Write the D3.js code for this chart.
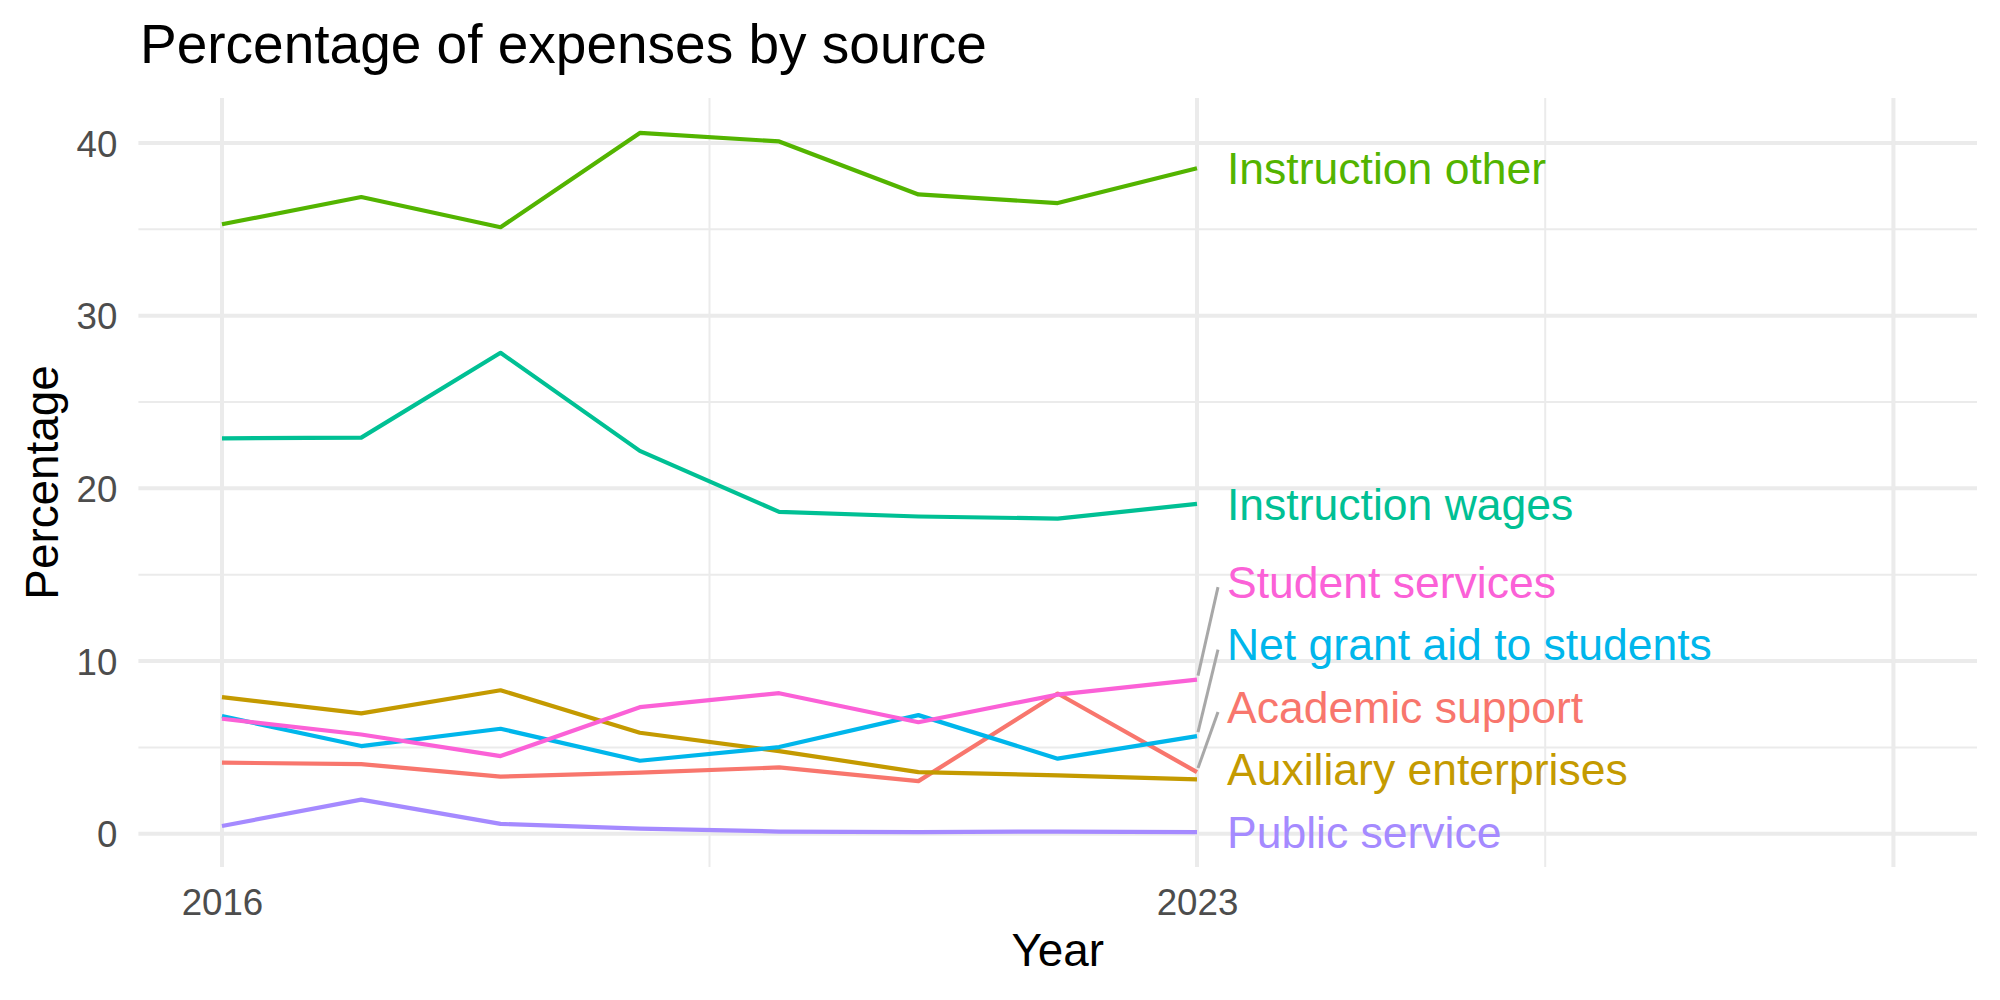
<!DOCTYPE html>
<html>
<head>
<meta charset="utf-8">
<script src="https://cdn.jsdelivr.net/npm/d3@7"></script>
<style>
  body { margin: 0; background: #fff; }
  svg { display: block; font-family: "Liberation Sans", Arial, Helvetica, sans-serif; }
</style>
</head>
<body>
<div id="chart"></div>
<script>
// data
const years = [2016, 2017, 2018, 2019, 2020, 2021, 2022, 2023];
const academicSupport      = [4.12, 4.03, 3.31, 3.54, 3.84, 3.05, 8.12, 3.57];
const auxiliaryEnterprises = [7.91, 6.97, 8.31, 5.85, 4.79, 3.57, 3.38, 3.15];
const instructionOther     = [35.29, 36.87, 35.12, 40.58, 40.09, 37.02, 36.52, 38.54];
const instructionWages     = [22.90, 22.94, 27.85, 22.17, 18.64, 18.37, 18.25, 19.10];
const netGrantAid          = [6.81, 5.08, 6.08, 4.23, 5.02, 6.87, 4.35, 5.65];
const publicService        = [0.45, 1.98, 0.57, 0.30, 0.13, 0.10, 0.13, 0.10];
const studentServices      = [6.66, 5.75, 4.50, 7.33, 8.14, 6.46, 8.06, 8.93];

const seriesNames = ["Academic support", "Auxiliary enterprises", "Instruction other",
  "Instruction wages", "Net grant aid to students", "Public service", "Student services"];
const seriesValues = [academicSupport, auxiliaryEnterprises, instructionOther,
  instructionWages, netGrantAid, publicService, studentServices];
const seriesColors = ["#F8766D", "#C49A00", "#53B400", "#00C094", "#00B6EB", "#A58AFF", "#FB61D7"];

const xLimits = [2016, 2028];
const xBreaks = [2016, 2023, 2028];
const xTickLabels = ["2016", "2023", ""];
const yBreaks = [0, 10, 20, 30, 40];

// layout
const W = 2000, H = 1000;
const panel = { left: 138.4, right: 1977, top: 98, bottom: 867 };

const series = seriesNames.map((name, i) => ({
  name,
  color: seriesColors[i],
  points: years.map((yr, j) => ({ year: yr, value: seriesValues[i][j] }))
}));

const svg = d3.select("#chart").append("svg")
  .attr("width", W)
  .attr("height", H);

// scales with ggplot-style 5% expansion
const xPad = (xLimits[1] - xLimits[0]) * 0.05;
const x = d3.scaleLinear()
  .domain([xLimits[0] - xPad, xLimits[1] + xPad])
  .range([panel.left, panel.right]);

const allVals = seriesValues.flat();
const yMin = d3.min(allVals), yMax = d3.max(allVals);
const yPad = (yMax - yMin) * 0.05;
const y = d3.scaleLinear()
  .domain([yMin - yPad, yMax + yPad])
  .range([panel.bottom, panel.top]);

// grid
const grid = svg.append("g");
const yMinor = yBreaks.slice(0, -1).map((b, i) => (b + yBreaks[i + 1]) / 2);
const xMinor = xBreaks.slice(0, -1).map((b, i) => (b + xBreaks[i + 1]) / 2);

grid.selectAll(".ymin").data(yMinor).join("line")
  .attr("x1", panel.left).attr("x2", panel.right)
  .attr("y1", d => y(d)).attr("y2", d => y(d))
  .attr("stroke", "#EBEBEB").attr("stroke-width", 2);
grid.selectAll(".xmin").data(xMinor).join("line")
  .attr("y1", panel.top).attr("y2", panel.bottom)
  .attr("x1", d => x(d)).attr("x2", d => x(d))
  .attr("stroke", "#EBEBEB").attr("stroke-width", 2);
grid.selectAll(".ymaj").data(yBreaks).join("line")
  .attr("x1", panel.left).attr("x2", panel.right)
  .attr("y1", d => y(d)).attr("y2", d => y(d))
  .attr("stroke", "#EBEBEB").attr("stroke-width", 4);
grid.selectAll(".xmaj").data(xBreaks).join("line")
  .attr("y1", panel.top).attr("y2", panel.bottom)
  .attr("x1", d => x(d)).attr("x2", d => x(d))
  .attr("stroke", "#EBEBEB").attr("stroke-width", 4);

// axes (text only, like theme_minimal)
const yAxis = svg.append("g")
  .attr("transform", `translate(${panel.left - 21},0)`)
  .call(d3.axisLeft(y).tickValues(yBreaks).tickSize(0).tickPadding(0));
yAxis.select(".domain").remove();
yAxis.selectAll("text")
  .attr("dy", null)
  .attr("y", 13.1)
  .attr("fill", "#4D4D4D")
  .style("font-size", "36.7px")
  .style("font-family", "inherit");

const xAxis = svg.append("g")
  .attr("transform", `translate(0,${panel.bottom})`)
  .call(d3.axisBottom(x).tickValues(xBreaks)
    .tickFormat((d, i) => xTickLabels[i]).tickSize(0).tickPadding(0));
xAxis.select(".domain").remove();
xAxis.selectAll("text")
  .attr("dy", null)
  .attr("y", 48)
  .attr("fill", "#4D4D4D")
  .style("font-size", "36.7px")
  .style("font-family", "inherit");

// lines
const line = d3.line()
  .x(d => x(d.year))
  .y(d => y(d.value));

svg.append("g").selectAll("path").data(series).join("path")
  .attr("d", d => line(d.points))
  .attr("fill", "none")
  .attr("stroke", d => d.color)
  .attr("stroke-width", 4.2)
  .attr("stroke-linejoin", "round");

// end labels, pushed apart from the bottom up
const lastYear = years[years.length - 1];
const labelX = x(lastYear) + 30;
const gap = 62.5;
const ends = series.map(s => {
  const v = s.points[s.points.length - 1].value;
  return { ...s, endY: y(v) };
}).sort((a, b) => b.endY - a.endY);

let prev = Infinity;
ends.forEach(e => {
  e.labelY = Math.min(e.endY, prev - gap);
  prev = e.labelY;
});

const labels = svg.append("g");
labels.selectAll("line").data(ends.filter(e => e.endY - e.labelY > 20)).join("line")
  .attr("x1", x(lastYear) + 1)
  .attr("y1", d => d.endY - 4)
  .attr("x2", labelX - 9)
  .attr("y2", d => d.labelY + 5)
  .attr("stroke", "#A8A8A8")
  .attr("stroke-width", 3);

labels.selectAll("text").data(ends).join("text")
  .attr("x", labelX)
  .attr("y", d => d.labelY + 15.8)
  .attr("fill", d => d.color)
  .style("font-size", "44.5px")
  .text(d => d.name);

// titles
svg.append("text")
  .attr("x", 140)
  .attr("y", 63)
  .style("font-size", "55px")
  .attr("fill", "#000")
  .text("Percentage of expenses by source");

svg.append("text")
  .attr("x", (panel.left + panel.right) / 2)
  .attr("y", 966)
  .attr("text-anchor", "middle")
  .style("font-size", "45.8px")
  .text("Year");

svg.append("text")
  .attr("transform", `translate(58,${(panel.top + panel.bottom) / 2}) rotate(-90)`)
  .attr("text-anchor", "middle")
  .style("font-size", "45.8px")
  .text("Percentage");
</script>
</body>
</html>
